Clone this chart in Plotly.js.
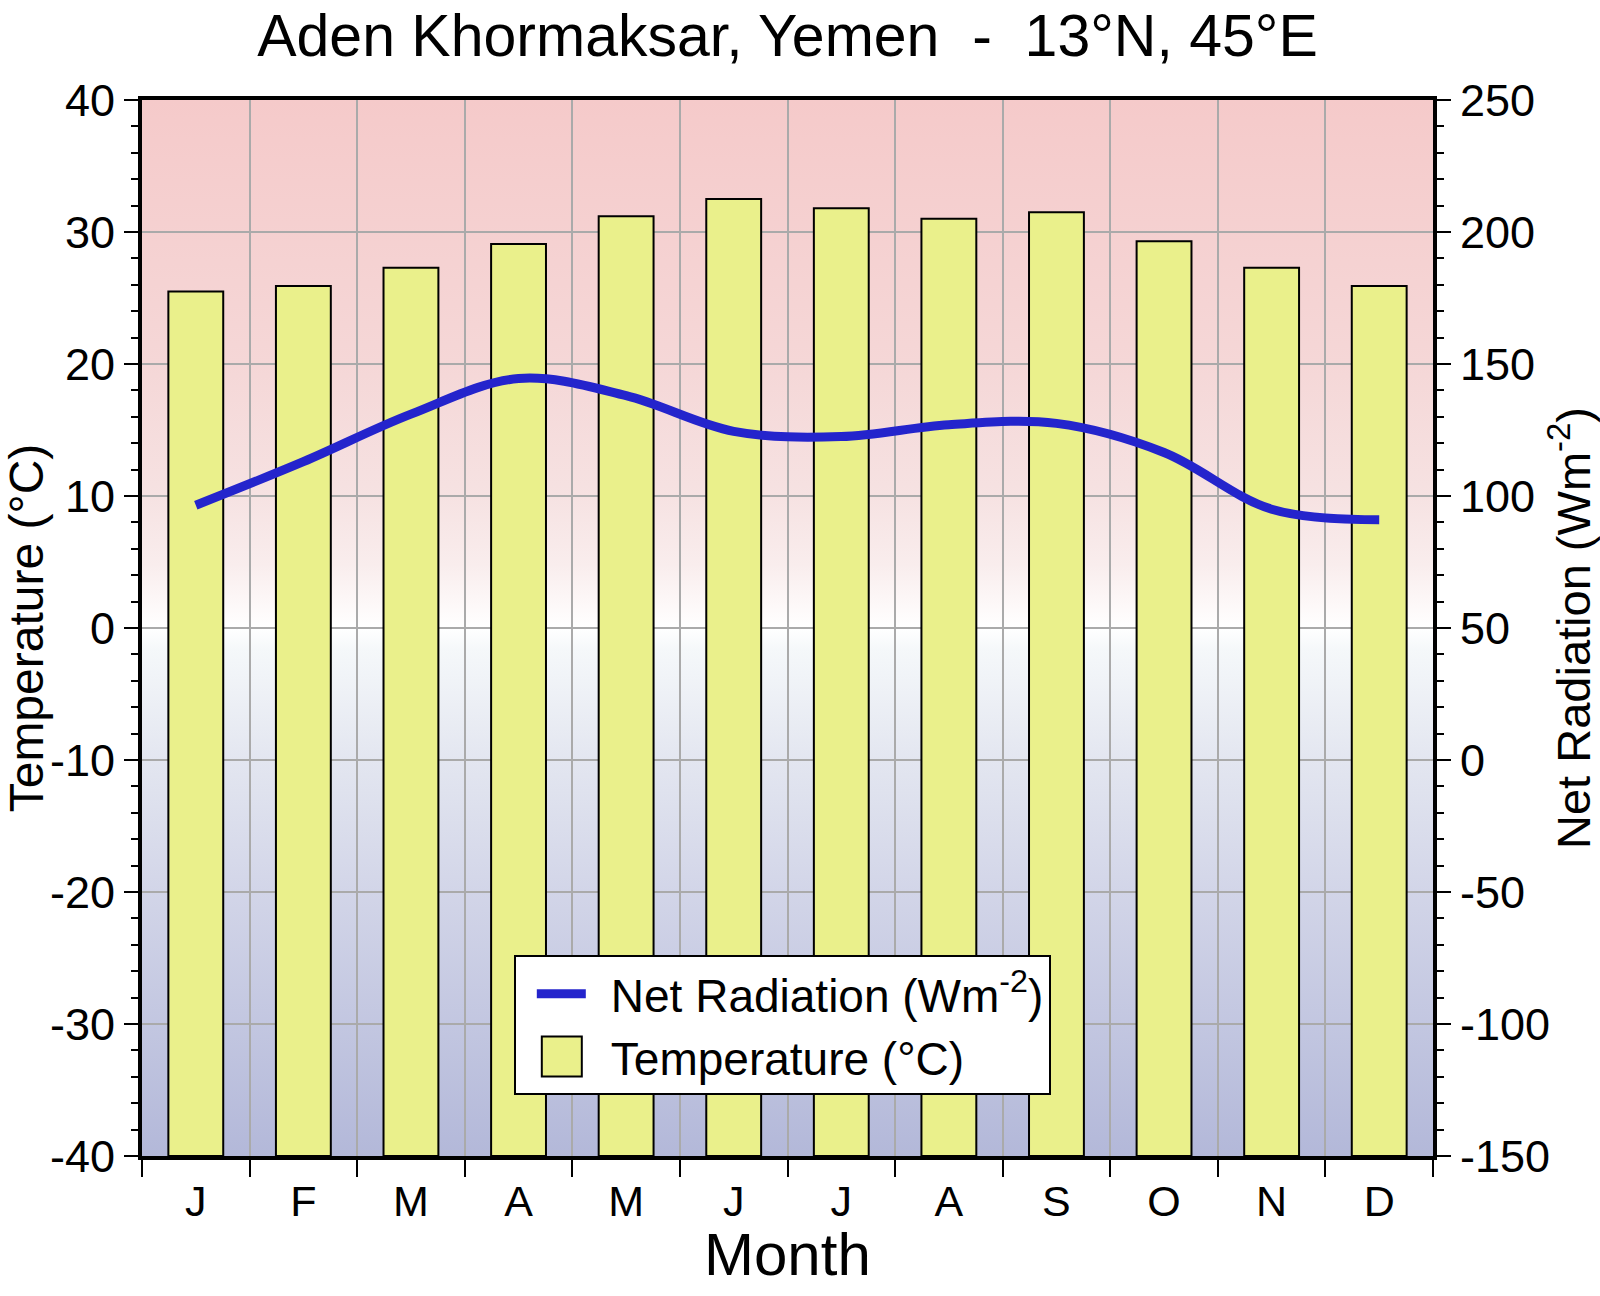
<!DOCTYPE html>
<html>
<head>
<meta charset="utf-8">
<script src="https://cdn.plot.ly/plotly-3.0.1.min.js"></script>
<style>
  html, body { margin: 0; padding: 0; background: #ffffff; }
  #chart { width: 1600px; height: 1296px; }
</style>
</head>
<body>
<div id="chart"></div>
<script>
// ---- data ----
const months = ['Jan', 'Feb', 'Mar', 'Apr', 'May', 'Jun', 'Jul', 'Aug', 'Sep', 'Oct', 'Nov', 'Dec'];
const monthLabels = ['J', 'F', 'M', 'A', 'M', 'J', 'J', 'A', 'S', 'O', 'N', 'D'];
const temperature = [25.5, 25.9, 27.3, 29.1, 31.2, 32.5, 31.8, 31.0, 31.5, 29.3, 27.3, 25.9];
const netRadiation = [96.5, 113, 131, 144.5, 138, 124.5, 122.5, 127, 127.5, 116.5, 95, 91];
const tempTicks = [-40, -30, -20, -10, 0, 10, 20, 30, 40];
const radTicks = [-150, -100, -50, 0, 50, 100, 150, 200, 250];
const tempRange = [-40, 40];
const radRange = [-150, 250];

const FONT = 'Liberation Sans, Arial, Helvetica, sans-serif';

// background gradient (pink -> white -> blue-grey)
const gradSvg =
  '<svg xmlns="http://www.w3.org/2000/svg" width="100" height="100" viewBox="0 0 100 100" preserveAspectRatio="none">' +
  '<defs><linearGradient id="g" x1="0" y1="0" x2="0" y2="1">' +
  '<stop offset="0" stop-color="#f5caca"/>' +
  '<stop offset="0.25" stop-color="#f5d7d7"/>' +
  '<stop offset="0.375" stop-color="#f6e2e2"/>' +
  '<stop offset="0.44" stop-color="#f9eded"/>' +
  '<stop offset="0.5" stop-color="#ffffff"/>' +
  '<stop offset="0.52" stop-color="#f5f8fa"/>' +
  '<stop offset="0.625" stop-color="#e3e6f0"/>' +
  '<stop offset="0.75" stop-color="#d2d5e8"/>' +
  '<stop offset="1" stop-color="#b3b8d9"/>' +
  '</linearGradient></defs><rect x="0" y="0" width="100" height="100" fill="url(#g)"/></svg>';
const gradSrc = 'data:image/svg+xml;charset=utf-8,' + encodeURIComponent(gradSvg);

const lineTrace = {
  type: 'scatter',
  mode: 'lines',
  x: months,
  y: netRadiation,
  yaxis: 'y2',
  name: 'Net Radiation (Wm<sup>-2</sup>)',
  line: { color: '#2424cc', width: 9, shape: 'spline', smoothing: 1 },
  hoverinfo: 'skip'
};

// bars rise from the bottom of the temperature axis
const barBase = tempRange[0];
const barTrace = {
  type: 'bar',
  x: months,
  y: temperature.map(t => t - barBase),
  base: barBase,
  name: 'Temperature (°C)',
  marker: { color: '#eaf08b', line: { color: '#000000', width: 2 } },
  hoverinfo: 'skip'
};

const layout = {
  width: 1600,
  height: 1296,
  margin: { l: 142, r: 167, t: 100, b: 140 },
  paper_bgcolor: '#ffffff',
  plot_bgcolor: 'rgba(0,0,0,0)',
  font: { family: FONT, color: '#000000', size: 45 },
  showlegend: true,
  bargap: 0.49,
  title: {
    text: 'Aden Khormaksar, Yemen\u00a0\u00a0-\u00a0\u00a013°N, 45°E',
    font: { family: FONT, size: 59, color: '#000000' },
    x: 0.5, xref: 'paper', xanchor: 'center',
    y: 1 - 35 / 1296, yref: 'container', yanchor: 'middle'
  },
  xaxis: {
    type: 'category',
    categoryorder: 'array',
    categoryarray: months,
    range: [-0.5, 11.5],
    tickmode: 'array',
    tickvals: months,
    ticktext: monthLabels,
    tickson: 'boundaries',
    ticks: 'outside',
    ticklen: 17,
    tickwidth: 2,
    tickcolor: '#000000',
    ticklabelstandoff: 4,
    tickfont: { family: FONT, size: 43, color: '#000000' },
    showgrid: true,
    gridcolor: '#aaaaaa',
    gridwidth: 2,
    showline: true,
    linecolor: '#000000',
    linewidth: 4,
    mirror: true,
    zeroline: false,
    fixedrange: true
  },
  yaxis: {
    range: tempRange,
    tickmode: 'array',
    tickvals: tempTicks,
    ticktext: tempTicks.map(String),
    ticks: 'outside',
    ticklen: 14,
    tickwidth: 2.5,
    tickcolor: '#000000',
    tickfont: { family: FONT, size: 45, color: '#000000' },
    minor: { dtick: 2, tick0: 0, ticks: 'outside', ticklen: 7, tickwidth: 2, tickcolor: '#000000', showgrid: false },
    showgrid: true,
    gridcolor: '#aaaaaa',
    gridwidth: 2,
    showline: true,
    linecolor: '#000000',
    linewidth: 4,
    zeroline: false,
    fixedrange: true,
    title: { text: 'Temperature (°C)', font: { family: FONT, size: 48, color: '#000000' }, standoff: 20 }
  },
  yaxis2: {
    overlaying: 'y',
    side: 'right',
    anchor: 'x',
    range: radRange,
    tickmode: 'array',
    tickvals: radTicks,
    ticktext: radTicks.map(String),
    ticks: 'outside',
    ticklen: 14,
    tickwidth: 2.5,
    tickcolor: '#000000',
    tickfont: { family: FONT, size: 45, color: '#000000' },
    minor: { dtick: 10, tick0: 0, ticks: 'outside', ticklen: 7, tickwidth: 2, tickcolor: '#000000', showgrid: false },
    showgrid: false,
    showline: true,
    linecolor: '#000000',
    linewidth: 4,
    zeroline: false,
    fixedrange: true,
    title: { text: 'Net Radiation (Wm<sup>-2</sup>)', font: { family: FONT, size: 47, color: '#000000' }, standoff: 12 }
  },
  annotations: [{
    text: 'Month',
    xref: 'paper', yref: 'paper',
    x: 0.5, y: -(1254 - 1156) / 1056,
    xanchor: 'center', yanchor: 'middle',
    showarrow: false,
    font: { family: FONT, size: 60, color: '#000000' }
  }],
  legend: {
    x: 0.288, xanchor: 'left',
    y: 0.19, yanchor: 'top',
    xref: 'paper', yref: 'paper',
    bgcolor: '#ffffff',
    bordercolor: '#000000',
    borderwidth: 2,
    font: { family: FONT, size: 46, color: '#000000' },
    traceorder: 'normal',
    itemwidth: 85
  },
  images: [{
    source: gradSrc,
    xref: 'paper', yref: 'paper',
    x: 0, y: 1, sizex: 1, sizey: 1,
    xanchor: 'left', yanchor: 'top',
    sizing: 'stretch',
    layer: 'below'
  }]
};

Plotly.newPlot('chart', [lineTrace, barTrace], layout, { staticPlot: true, displayModeBar: false }).then(gd => {
  // resize legend keys to match the reference key
  const items = gd.querySelectorAll('.legend .traces');
  if (items[0]) {
    items[0].querySelectorAll('.legendlines path, .legendpoints path').forEach(p => {
      p.removeAttribute('transform');
      p.setAttribute('d', 'M21,0h49');
      p.style.strokeLinecap = 'butt';
    });
  }
  if (items[1]) {
    items[1].querySelectorAll('.legendpoints path').forEach(p => {
      p.removeAttribute('transform');
      p.setAttribute('d', 'M66,20H26V-20H66Z');
      p.style.strokeWidth = '2px';
    });
  }
});
</script>
</body>
</html>
